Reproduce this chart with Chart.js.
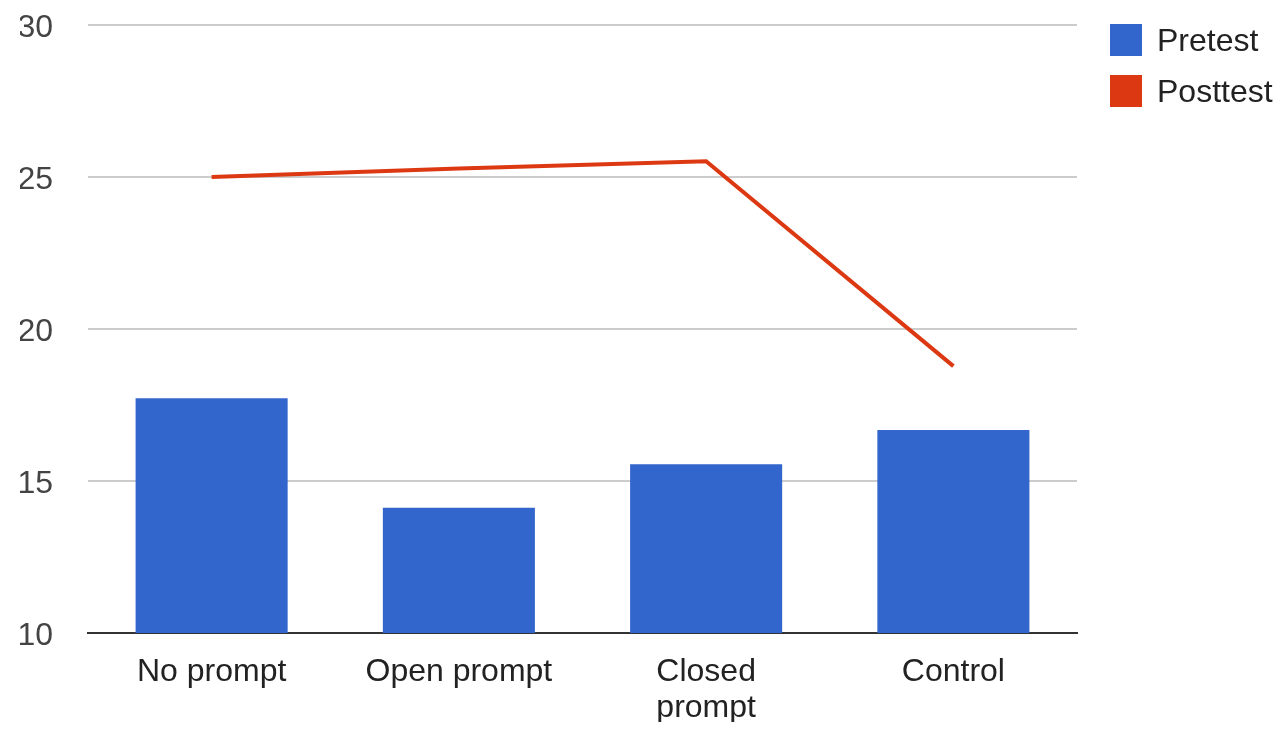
<!DOCTYPE html>
<html>
<head>
<meta charset="utf-8">
<title>Pretest / Posttest</title>
<script src="https://cdn.jsdelivr.net/npm/chart.js@4/dist/chart.umd.min.js"></script>
<style>
    html, body { margin: 0; padding: 0; background: #fff; }
    #wrap { width: 1287px; height: 734px; }
</style>
</head>
<body>
<div id="wrap"><canvas id="grafica" width="1287" height="734"></canvas></div>
<script>
// Grupos y puntajes medios
const grupos = ['No prompt', 'Open prompt', ['Closed', 'prompt'], 'Control'];
const pretest = [17.72, 14.12, 15.55, 16.68];
const posttest = [25.0, 25.28, 25.52, 18.78];
const ticksY = [10, 15, 20, 25, 30];

const AZUL = '#3366cc';
const ROJO = '#dc3912';
const FUENTE = "'Liberation Sans', Arial, sans-serif";

// Leyenda dibujada a mano a la derecha del área de la gráfica
const leyendaDerecha = {
    id: 'leyendaDerecha',
    afterDraw(chart) {
        const ctx = chart.ctx;
        ctx.save();
        ctx.font = '32px ' + FUENTE;
        ctx.textBaseline = 'middle';
        ctx.textAlign = 'left';
        chart.data.datasets.forEach((ds, i) => {
            const y = 24 + i * 51;
            ctx.fillStyle = ds.legendColor;
            ctx.fillRect(1110, y, 32, 32);
            ctx.fillStyle = '#222';
            ctx.fillText(ds.label, 1157, y + 18);
        });
        ctx.restore();
    }
};

new Chart(document.getElementById('grafica'), {
    type: 'bar',
    data: {
        labels: grupos,
        datasets: [
            {
                type: 'bar',
                label: 'Pretest',
                data: pretest,
                backgroundColor: AZUL,
                legendColor: AZUL,
                barPercentage: 1,
                categoryPercentage: 0.615,
                order: 2
            },
            {
                type: 'line',
                label: 'Posttest',
                data: posttest,
                borderColor: ROJO,
                backgroundColor: ROJO,
                legendColor: ROJO,
                borderWidth: 4,
                tension: 0,
                pointRadius: 0,
                fill: false,
                order: 1
            }
        ]
    },
    options: {
        responsive: false,
        animation: false,
        layout: { padding: { left: 20, right: 210, top: 0, bottom: 12 } },
        plugins: {
            legend: { display: false },
            tooltip: { enabled: false }
        },
        scales: {
            x: {
                afterFit: axis => { axis.height = 89; },
                grid: { display: false, drawTicks: false },
                border: { display: true, color: '#333', width: 2 },
                ticks: {
                    color: '#222',
                    padding: 21,
                    maxRotation: 0,
                    font: { family: FUENTE, size: 32, lineHeight: 1.125 }
                }
            },
            y: {
                min: 10,
                max: 30,
                afterFit: axis => {
                    axis.width = 68;
                    axis.paddingTop = 25;
                    axis.paddingBottom = 0;
                },
                afterBuildTicks: axis => { axis.ticks = ticksY.map(v => ({ value: v })); },
                grid: {
                    drawTicks: false,
                    lineWidth: 2,
                    color: c => (c.tick && c.tick.value === 10 ? '#333' : '#cccccc')
                },
                border: { display: false },
                ticks: {
                    color: '#444',
                    padding: 35,
                    labelOffset: 3,
                    font: { family: FUENTE, size: 32 }
                }
            }
        }
    },
    plugins: [leyendaDerecha]
});
</script>
</body>
</html>
